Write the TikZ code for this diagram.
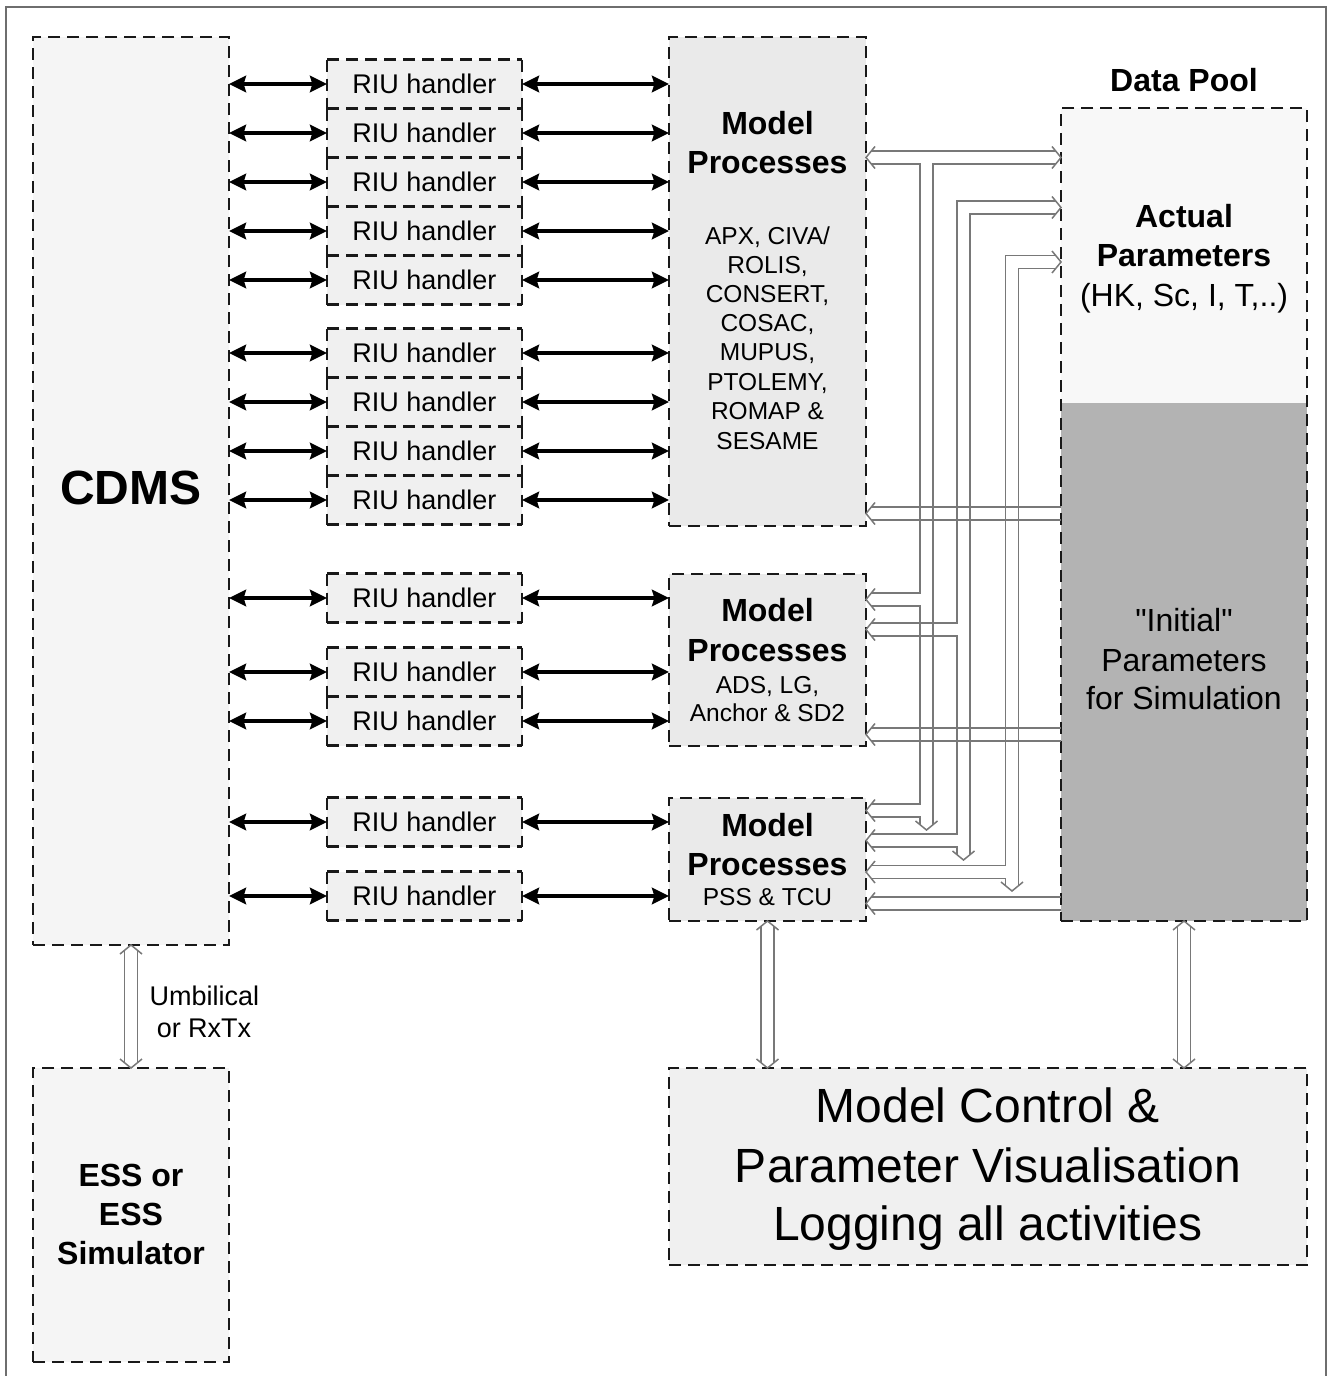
\documentclass[tikz,border=0pt]{standalone}
\usepackage{fontspec}
\setmainfont{Liberation Sans}
\newfontfamily\rawsans{Liberation Sans}
\usetikzlibrary{arrows.meta}

\definecolor{edge}{RGB}{25,25,25}
\definecolor{holc}{RGB}{120,120,120}
\definecolor{framec}{RGB}{110,110,110}
\definecolor{fillA}{RGB}{245,245,245}
\definecolor{fillR}{RGB}{240,240,240}
\definecolor{fillM}{RGB}{234,234,234}
\definecolor{fillU}{RGB}{248,248,248}
\definecolor{fillL}{RGB}{179,179,179}

\newcommand\fs[2]{\fontsize{#1}{#2}\selectfont}
% rectangle node from its corners (x1,y1)-(x2,y2)
\newcommand\boxat[6]{\node[box,fill=#6,minimum width={(#4-#2)*0.5pt},minimum height={(#5-#3)*0.5pt}] (#1) at ({(#2+#4)/2},{(#3+#5)/2}) {};}
% open heads of the hollow links, tip at #1
\newcommand\headL[1]{\draw[hol] ([shift={(9,-11)}]#1) -- (#1) -- ([shift={(9,11)}]#1);}
\newcommand\headR[1]{\draw[hol] ([shift={(-9,-11)}]#1) -- (#1) -- ([shift={(-9,11)}]#1);}
\newcommand\headD[1]{\draw[hol] ([shift={(-11,-9)}]#1) -- (#1) -- ([shift={(11,-9)}]#1);}
\newcommand\headU[1]{\draw[hol] ([shift={(-11,9)}]#1) -- (#1) -- ([shift={(11,9)}]#1);}

\begin{document}
\begin{tikzpicture}[x=0.5pt,y=-0.5pt,
  dashln/.style={draw=edge,line width=1.4pt,dash pattern=on 6pt off 3.5pt},
  box/.style={dashln,inner sep=0pt,outer sep=0pt},
  riu/.style={fill=fillR,inner sep=0pt,outer sep=0pt,minimum width=97.5pt,minimum height=24.5pt,font=\fs{13.5}{16}},
  txt/.style={inner sep=0pt,anchor=base},
  bold/.style={txt,font=\fs{16}{19}\bfseries},
  plain/.style={txt,font=\fs{16}{19}},
  small/.style={txt,font=\fs{12.25}{14}},
  big/.style={txt,font=\fs{24}{28}},
  bi/.style={line width=2pt,{Stealth[length=8.5pt,width=8.2pt,inset=1.2pt]}-{Stealth[length=8.5pt,width=8.2pt,inset=1.2pt]}},
  hol/.style={draw=holc,line width=0.75pt}]

\useasboundingbox (0,0) rectangle (1329,1376);
\fill[white] (0,0) rectangle (1329,1376);
\draw[draw=framec,line width=1pt] (6,1376) -- (6,7) -- (1326,7) -- (1326,1376);

% ---- main blocks
\boxat{cdms}{33}{37}{229}{945}{fillA}
\boxat{ess}{33}{1068}{229}{1362}{fillA}
\boxat{mp1}{669}{37}{866}{526}{fillM}
\boxat{mp2}{669}{574}{866}{746}{fillM}
\boxat{mp3}{669}{798}{866}{921}{fillM}
\boxat{mc}{669}{1068}{1307}{1265}{fillR}
% data pool: two shaded parts inside one dashed frame
\node[inner sep=0pt,outer sep=0pt,fill=fillU,minimum width=123pt,minimum height=147.5pt] (dpA) at (1184,255.5) {};
\node[inner sep=0pt,outer sep=0pt,fill=fillL,minimum width=123pt,minimum height=259pt] (dpB) at (1184,662) {};
\node[box,minimum width=123pt,minimum height=406.5pt] (dp) at (1184,514.5) {};

% ---- RIU handlers; each edge drawn on its own so that shared edges keep one dash phase
\foreach \n/\y in {1/84,2/133,3/182,4/231,5/280,6/353,7/402,8/451,9/500,10/598,11/672,12/721,13/822,14/896}{
  \node[riu] (r\n) at (424.5,\y) {RIU handler};
  \draw[dashln] (r\n.north west) -- (r\n.north east);
  \draw[dashln] (r\n.south west) -- (r\n.south east);
  \draw[dashln] (r\n.north west) -- (r\n.south west);
  \draw[dashln] (r\n.north east) -- (r\n.south east);
}

% ---- CDMS <-> RIU handler <-> model processes
\foreach \n/\m in {1/mp1,2/mp1,3/mp1,4/mp1,5/mp1,6/mp1,7/mp1,8/mp1,9/mp1,10/mp2,11/mp2,12/mp2,13/mp3,14/mp3}{
  \draw[bi] (cdms.east |- r\n) -- (r\n.west);
  \draw[bi] (r\n.east) -- (\m.west |- r\n);
}

% ---- texts
\node[txt,font=\fs{24}{28}\bfseries] (tcdms) at (131,504.3) {CDMS};
\node[bold] (tess1) at (131,1186.5) {ESS or};
\node[bold] (tess2) at (131,1225.5) {ESS};
\node[bold] (tess3) at (131,1264.5) {Simulator};
\node[txt,font=\fs{13.5}{16}] (tumb1) at (204.5,1005.7) {Umbilical};
\node[txt,font=\fs{13.5}{16}] (tumb2) at (204,1037.7) {or RxTx};

\node[bold] (tm1a) at (767.5,134.5) {Model};
\node[bold] (tm1b) at (767.5,173.5) {Processes};
\foreach \k/\y/\s in {1/244.8/{APX, CIVA/},2/273.8/{ROLIS,},3/302.8/{CONSERT,},4/331.8/{COSAC,},
                      5/360.8/{MUPUS,},6/390.8/{PTOLEMY,},7/419.8/{ROMAP \&},8/449.8/{SESAME}}
  \node[small] (tl\k) at (767.5,\y) {\s};
\node[bold] (tm2a) at (767.5,621.5) {Model};
\node[bold] (tm2b) at (767.5,661.5) {Processes};
\node[small] (tm2c) at (767.5,693.8) {ADS, LG,};
\node[small] (tm2d) at (767.5,721.8) {Anchor \& SD2};
\node[bold] (tm3a) at (767.5,836.5) {Model};
\node[bold] (tm3b) at (767.5,875.5) {Processes};
\node[small] (tm3c) at (767.5,905.8) {PSS \& TCU};

\node[bold] (tdp) at (1184,91.5) {Data Pool};
\node[bold] (tdpa) at (1184,227.5) {Actual};
\node[bold] (tdpb) at (1184,266.5) {Parameters};
\node[plain] (tdpc) at (1184,306.5) {(HK, Sc, I, T,..)};
\node[plain] (tdpd) at (1184,631.5) {{\rawsans"}Initial{\rawsans"}};
\node[plain] (tdpe) at (1184,671.5) {Parameters};
\node[plain] (tdpf) at (1184,709.5) {for Simulation};

\node[big] (tmc1) at (988,1122.3) {Model Control \&};
\node[big] (tmc2) at (988,1182.3) {Parameter Visualisation};
\node[big] (tmc3) at (988,1240.3) {Logging all activities};

% ---- hollow links between model processes and data pool
% bus 1: model processes (top) <-> data pool, dropping to the two lower groups
\draw[hol] ([shift={(5.3,0)}]mp1.east |- 0,151) -- ([shift={(-5.3,0)}]dpA.west |- 0,151);
\draw[hol] ([shift={(5.3,0)}]mp1.east |- 0,164) -- (920,164) -- (920,593) -- ([shift={(5.3,0)}]mp2.east |- 0,593);
\draw[hol] ([shift={(5.3,0)}]mp2.east |- 0,606) -- (920,606) -- (920,804) -- ([shift={(5.3,0)}]mp3.east |- 0,804);
\draw[hol] ([shift={(5.3,0)}]mp3.east |- 0,817) -- (920,817) -- (920,824.7);
\draw[hol] ([shift={(-5.3,0)}]dpA.west |- 0,164) -- (933,164) -- (933,824.7);
\headL{mp1.east |- 0,157.5}
\headR{dpA.west |- 0,157.5}
\headL{mp2.east |- 0,599.5}
\headL{mp3.east |- 0,810.5}
\headD{926.5,830}
% bus 2
\draw[hol] ([shift={(-5.3,0)}]dpA.west |- 0,201) -- (957,201) -- (957,623) -- ([shift={(5.3,0)}]mp2.east |- 0,623);
\draw[hol] ([shift={(5.3,0)}]mp2.east |- 0,636) -- (957,636) -- (957,834) -- ([shift={(5.3,0)}]mp3.east |- 0,834);
\draw[hol] ([shift={(5.3,0)}]mp3.east |- 0,847) -- (957,847) -- (957,854.7);
\draw[hol] ([shift={(-5.3,0)}]dpA.west |- 0,214) -- (970,214) -- (970,854.7);
\headR{dpA.west |- 0,207.5}
\headL{mp2.east |- 0,629.5}
\headL{mp3.east |- 0,840.5}
\headD{963.5,860}
% bus 3
\draw[hol] ([shift={(-5.3,0)}]dpA.west |- 0,255.5) -- (1005.5,255.5) -- (1005.5,865.5) -- ([shift={(5.3,0)}]mp3.east |- 0,865.5);
\draw[hol] ([shift={(5.3,0)}]mp3.east |- 0,878.5) -- (1005.5,878.5) -- (1005.5,885.7);
\draw[hol] ([shift={(-5.3,0)}]dpA.west |- 0,268.5) -- (1018.5,268.5) -- (1018.5,885.7);
\headR{dpA.west |- 0,262}
\headL{mp3.east |- 0,872}
\headD{1012,891}
% initial parameters fed back to each group
\foreach \m/\y in {mp1/513.5,mp2/734.5,mp3/903.5}{
  \draw[hol] ([shift={(5.3,0)}]\m.east |- 0,\y-6.5) -- (dpB.west |- 0,\y-6.5);
  \draw[hol] ([shift={(5.3,0)}]\m.east |- 0,\y+6.5) -- (dpB.west |- 0,\y+6.5);
  \headL{\m.east |- 0,\y}
}

% ---- vertical hollow links
\draw[hol] ([shift={(-6.5,5.3)}]cdms.south) -- ([shift={(-6.5,-5.3)}]ess.north);
\draw[hol] ([shift={(6.5,5.3)}]cdms.south) -- ([shift={(6.5,-5.3)}]ess.north);
\headU{cdms.south}
\headD{ess.north}

\draw[hol] ([shift={(-6.5,5.3)}]mp3.south) -- ([shift={(-6.5,-5.3)}]mc.north -| mp3.south);
\draw[hol] ([shift={(6.5,5.3)}]mp3.south) -- ([shift={(6.5,-5.3)}]mc.north -| mp3.south);
\headU{mp3.south}
\headD{mc.north -| mp3.south}

\draw[hol] ([shift={(-6.5,5.3)}]dpB.south) -- ([shift={(-6.5,-5.3)}]mc.north -| dpB.south);
\draw[hol] ([shift={(6.5,5.3)}]dpB.south) -- ([shift={(6.5,-5.3)}]mc.north -| dpB.south);
\headU{dpB.south}
\headD{mc.north -| dpB.south}

\end{tikzpicture}
\end{document}
